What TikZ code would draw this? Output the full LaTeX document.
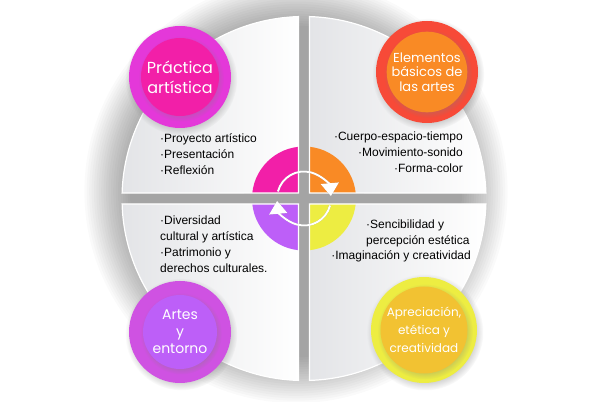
\documentclass[tikz,border=0pt]{standalone}
\usepackage{fontspec}
\setmainfont{Liberation Sans}
\newfontfamily\badgefont{Poppins}
\usetikzlibrary{arrows.meta, positioning, shadows, calc}
\definecolor{artpink}{HTML}{F21FA8}
\definecolor{artorange}{HTML}{F98A25}
\definecolor{artpurple}{HTML}{BD5FF8}
\definecolor{artyellow}{HTML}{EDED42}
\definecolor{pinkring}{HTML}{E438D9}
\definecolor{redring}{HTML}{F74A38}
\definecolor{purplering}{HTML}{CF52E2}
\definecolor{goldcore}{HTML}{F2C232}
\definecolor{quadgray}{HTML}{E3E4E7}
\tikzset{
  quadfill/.style={left color=quadgray, right color=white},
  badgering/.style={circle, minimum size=102pt, inner sep=0pt,
    circular drop shadow={shadow xshift=1pt, shadow yshift=-2pt, opacity=.35}},
  badgecore/.style={circle, minimum size=78pt, inner sep=0pt, text=white, align=center,
    circular drop shadow={shadow xshift=1pt, shadow yshift=-1.5pt, opacity=.3}},
  itemtext/.style={font=\fontsize{12}{16}\selectfont, inner sep=0pt},
  cyclearrow/.style={draw=white, line width=2pt, -{Triangle[width=18pt,length=13pt]}},
}
\begin{document}
\begin{tikzpicture}[x=1pt, y=1pt]
  \fill[white] (0,0) rectangle (606,402);
  \useasboundingbox (0,0) rectangle (606,402);
  \coordinate (ctr) at (304,203.5);

  % soft shadow under the wheel
  \foreach \r in {0,...,19}
    \fill[black, opacity=0.018] ($(ctr)+(-8,7)$) circle (166+2.4*\r);

  % the four quadrants with their coloured centre pieces
  \foreach \b/\col in {0/artorange, 90/artpink, 180/artpurple, 270/artyellow} {
    \def\quadpath{($(ctr)+(\b+1.73:182)$) arc[start angle=\b+1.73, end angle=\b+88.27, radius=182]
      -- ($(ctr)+(\b+45:7.78)$) -- cycle}
    \shade[quadfill] \quadpath;
    \begin{scope}
      \clip \quadpath;
      \fill[\col] (ctr) circle (52);
    \end{scope}
    \draw[white, line width=1.2pt] \quadpath;
  }

  % cycle arrows
  \begin{scope}[shift={(1.5,-2)}]
    \draw[cyclearrow, draw=black, opacity=.3] ($(ctr)+(165:27)$) arc[start angle=165, end angle=5, radius=27];
    \draw[cyclearrow, draw=black, opacity=.3] ($(ctr)+(-15:27)$) arc[start angle=-15, end angle=-175, radius=27];
  \end{scope}
  \draw[cyclearrow] ($(ctr)+(165:27)$) arc[start angle=165, end angle=5, radius=27];
  \draw[cyclearrow] ($(ctr)+(-15:27)$) arc[start angle=-15, end angle=-175, radius=27];

  % badges
  \node[badgering, fill=pinkring] (practica) at (180,325) {};
  \node[badgecore, fill=artpink, font=\badgefont\fontsize{16}{20}\selectfont] (practicacore) at (practica) {Práctica\\artística};
  \node[badgering, fill=redring] (elementos) at (427,330) {};
  \node[badgecore, fill=artorange, minimum size=80pt, font=\badgefont\fontsize{13}{14.5}\selectfont] (elementoscore) at (elementos) {Elementos\\básicos de\\las artes};
  \node[badgering, fill=purplering] (artes) at (180,70) {};
  \node[badgecore, fill=artpurple, minimum size=74pt, font=\badgefont\fontsize{14}{17}\selectfont] (artescore) at (artes) {Artes\\y\\entorno};
  \node[badgering, fill=artyellow, minimum size=106pt] (apreciacion) at (424,72) {};
  \node[badgecore, fill=goldcore, minimum size=80pt, font=\badgefont\fontsize{12}{18}\selectfont] (apreciacioncore) at (apreciacion) {Apreciación,\\etética y\\creatividad};

  % item lists
  \node[itemtext, anchor=north west, align=left] (practicaitems) at (160,269) {·Proyecto artístico\\·Presentación\\·Reflexión};
  \node[itemtext, anchor=north east, align=right] (elementositems) at (463,270) {·Cuerpo-espacio-tiempo\\·Movimiento-sonido\\·Forma-color};
  \node[itemtext, anchor=north west, align=left] (artesitems) at (160,186) {·Diversidad\\cultural y artística\\·Patrimonio y\\derechos culturales.};
  \node[itemtext, anchor=north west, align=left] (apreciacionitems) at (366,182) {·Sencibilidad y\\percepción estética};
  \node[itemtext, anchor=base east] (apreciacionlast) at (471,142) {·Imaginación y creatividad};
\end{tikzpicture}
\end{document}
